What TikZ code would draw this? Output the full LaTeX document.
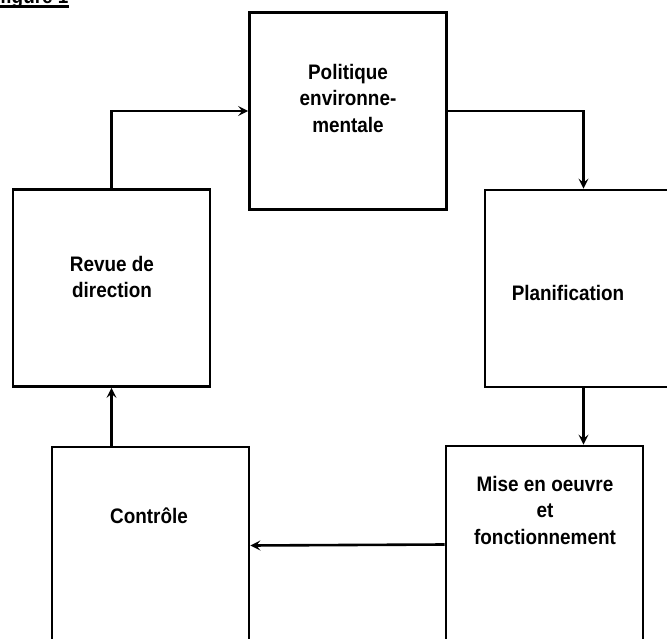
\documentclass[tikz,border=0pt]{standalone}
\usepackage{fontspec}
\setmainfont{Liberation Sans}[FakeStretch=0.9]
\usetikzlibrary{arrows.meta}
\tikzset{
  box/.style={draw, line width=2.8pt, minimum width=197pt, minimum height=197pt, inner sep=0pt},
  txt/.style={font=\fontsize{21}{26.5}\selectfont\bfseries, align=center, inner sep=0pt},
  arr/.style={line width=2.6pt, -{Stealth[length=10pt,width=10pt,inset=4pt]}},
}
\begin{document}
\begin{tikzpicture}[x=1pt,y=-1pt]
\useasboundingbox (0,0) rectangle (667,639);
\clip (0,0) rectangle (667,639);
% boxes
\node[box] (pol)  at (348,111)   {};
\node[box] (plan) at (583.5,288.5) {};
\node[box] (rev)  at (111.5,288) {};
\node[box] (ctl)  at (150.5,545.5) {};
\node[box] (mise) at (544.5,544.5) {};
% texts
\node[txt] (polT)  at (348,98)  {Politique\\environne-\\mentale};
\node[txt] (planT) at (568,293) {Planification};
\node[txt] (revT)  at (112,277) {Revue de\\direction};
\node[txt] (ctlT)  at (149,516) {Contrôle};
\node[txt] (miseT) at (545,510) {Mise en oeuvre\\et\\fonctionnement};
% title (cut off at the top edge, as in the reference)
\node[font=\fontsize{21}{24}\selectfont\bfseries, anchor=base west, inner sep=0pt] (fig) at (0,3.5) {figure 1};
\draw[line width=2.4pt] (fig.base west) ++(0,3) coordinate (ul1) -- (ul1 -| fig.base east);
% connectors
\draw[arr] (rev.north) |- (pol.west);
\draw[arr] (pol.east) -| (plan.north);
\draw[arr] (plan.south) -- (plan.south |- mise.north);
\draw[arr] (mise.west) -- (ctl.east);
\draw[arr] (ctl.north -| rev.south) -- (rev.south);
\end{tikzpicture}
\end{document}
